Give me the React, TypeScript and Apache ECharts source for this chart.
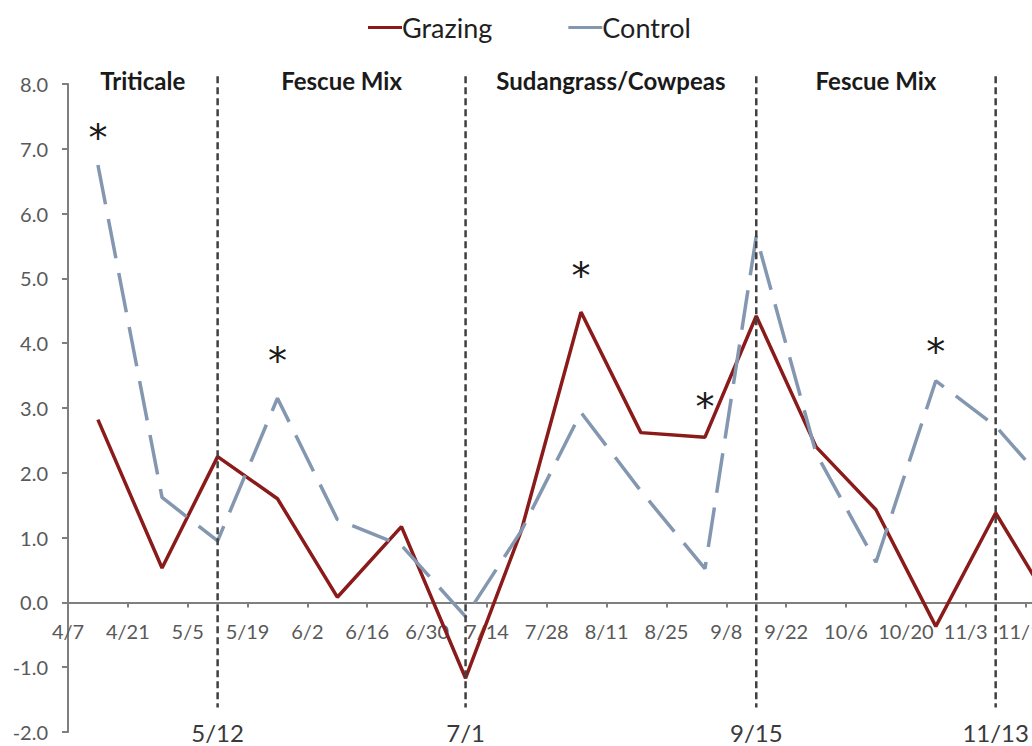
import { useEffect, useRef } from "react";
import * as echarts from "echarts";

// The x axis counts days from April 7 (its origin); ticks fall every 14 days.
const ORIGIN = Date.UTC(2014, 3, 7);
const DAY_MS = 86400000;
const dayOf = (md: string) => {
  const [m, d] = md.split("/").map(Number);
  return Math.round((Date.UTC(2014, m - 1, d) - ORIGIN) / DAY_MS);
};
const dateLabel = (day: number) => {
  const t = new Date(ORIGIN + day * DAY_MS);
  return `${t.getUTCMonth() + 1}/${t.getUTCDate()}`;
};

// Sampling dates and measured values
const sampleDates = [
  "4/14", "4/29", "5/12", "5/26", "6/9", "6/24", "7/9", "7/22", "8/5",
  "8/19", "9/3", "9/15", "9/29", "10/13", "10/27", "11/10", "11/24",
];
const grazing = [
  2.82, 0.53, 2.25, 1.6, 0.08, 1.17, -1.17, 1.1, 4.48,
  2.62, 2.55, 4.42, 2.4, 1.43, -0.37, 1.38, -0.15,
];
const control = [
  6.75, 1.62, 0.95, 3.15, 1.28, 0.88, -0.22, 1.1, 2.93,
  1.72, 0.52, 5.65, 2.3, 0.62, 3.42, 2.72, 1.67,
];

// Axis ranges
const tickStepDays = 14;
const axisEndDay = 225.5;
const yMin = -2;
const yMax = 8;
const yStep = 1;

// Crop rotation: boundary sampling dates and the transition dates they mark
const boundaryDates = ["5/12", "7/9", "9/15", "11/10"];
const boundaryLabels = ["5/12", "7/1", "9/15", "11/13"];
const phaseNames = ["Triticale", "Fescue Mix", "Sudangrass/Cowpeas", "Fescue Mix"];

// Significant differences
const starDates = ["4/14", "5/26", "8/5", "9/3", "10/27"];
const starLevels = [7.3, 3.87, 5.17, 3.16, 4.01];

const FONT = "Lato, 'Open Sans', sans-serif";

// Plot area
const WIDTH = 1032;
const HEIGHT = 746;
const GRID = { left: 68, right: 0, top: 84, bottom: 14 };

export default function App() {
  const ref = useRef<HTMLDivElement>(null);

  useEffect(() => {
    if (!ref.current) return;
    const chart = echarts.init(ref.current, undefined, { renderer: "svg" });

    const boundaryDays = boundaryDates.map(dayOf);
    const phaseStarts = [0, ...boundaryDays.slice(0, -1)];
    const phaseMids = phaseStarts.map((s, i) => (s + boundaryDays[i]) / 2);

    // The date axis sits on the zero line: lift it from the bottom edge.
    const plotHeight = HEIGHT - GRID.top - GRID.bottom;
    const zeroOffset = -((0 - yMin) / (yMax - yMin)) * plotHeight;

    chart.setOption({
      animation: false,
      backgroundColor: "#ffffff",
      grid: { ...GRID, containLabel: false, outerBoundsMode: "none" },
      legend: {
        data: ["Grazing", "Control"],
        left: 363,
        top: 9,
        icon: "rect",
        itemWidth: 34,
        itemHeight: 3,
        itemGap: 76,
        textStyle: { fontFamily: FONT, fontSize: 27, color: "#1f1f1f", padding: [0, 0, 0, -5] },
      },
      xAxis: {
        type: "value",
        position: "bottom",
        offset: zeroOffset,
        min: 0,
        max: axisEndDay,
        interval: tickStepDays,
        splitLine: { show: false },
        axisLine: { onZero: false, lineStyle: { color: "#7f7f7f", width: 2 } },
        axisTick: { show: true, length: 5, lineStyle: { color: "#7f7f7f", width: 2 } },
        axisLabel: {
          showMaxLabel: false,
          hideOverlap: false,
          margin: 19,
          fontFamily: FONT,
          fontSize: 20,
          color: "#595959",
          formatter: (v: number) => (v % tickStepDays === 0 ? dateLabel(v) : ""),
        },
      },
      yAxis: {
        type: "value",
        min: yMin,
        max: yMax,
        interval: yStep,
        splitLine: { show: false },
        axisLine: { show: true, onZero: false, lineStyle: { color: "#7f7f7f", width: 2 } },
        axisTick: { show: true, length: 6, lineStyle: { color: "#7f7f7f", width: 2 } },
        axisLabel: {
          margin: 20,
          fontFamily: FONT,
          fontSize: 20,
          color: "#595959",
          formatter: (v: number) => v.toFixed(1),
        },
      },
      series: [
        {
          name: "Grazing",
          type: "line",
          color: "#8b1a1a",
          symbol: "none",
          lineStyle: { color: "#8b1a1a", width: 3.5 },
          data: sampleDates.map((d, i) => [dayOf(d), grazing[i]]),
          z: 3,
        },
        {
          name: "Control",
          type: "line",
          color: "#8497b0",
          symbol: "none",
          lineStyle: { color: "#8497b0", width: 3.5, type: [40, 15] },
          data: sampleDates.map((d, i) => [dayOf(d), control[i]]),
          z: 4,
        },
        {
          name: "boundaries",
          type: "custom",
          encode: { x: 0, y: 1 },
          data: boundaryDays.map((d) => [d, 0]),
          z: 5,
          renderItem: (params: any, api: any) => {
            const x = api.value(0);
            const top = api.coord([x, 8.12]);
            const bottom = api.coord([x, -1.62]);
            const lab = api.coord([x, -2.0]);
            return {
              type: "group",
              children: [
                {
                  type: "line",
                  shape: { x1: top[0], y1: top[1], x2: bottom[0], y2: bottom[1] },
                  style: { stroke: "#404040", lineWidth: 2.5, lineDash: [7, 4] },
                },
                {
                  type: "text",
                  x: lab[0],
                  y: lab[1],
                  style: {
                    text: boundaryLabels[params.dataIndex],
                    fill: "#3a3a3a",
                    fontFamily: FONT,
                    fontSize: 24,
                    align: "center",
                    verticalAlign: "middle",
                  },
                },
              ],
            };
          },
        },
        {
          name: "phases",
          type: "custom",
          encode: { x: 0, y: 1 },
          data: phaseMids.map((d) => [d, 8]),
          z: 5,
          renderItem: (params: any, api: any) => {
            const p = api.coord([api.value(0), 8.05]);
            return {
              type: "text",
              x: p[0],
              y: p[1],
              style: {
                text: phaseNames[params.dataIndex],
                fill: "#1a1a1a",
                fontFamily: FONT,
                fontWeight: "bold",
                fontSize: 24,
                align: "center",
                verticalAlign: "middle",
              },
            };
          },
        },
        {
          name: "stars",
          type: "custom",
          encode: { x: 0, y: 1 },
          data: starDates.map((d, i) => [dayOf(d), starLevels[i]]),
          z: 5,
          renderItem: (params: any, api: any) => {
            const p = api.coord([api.value(0), api.value(1)]);
            return {
              type: "text",
              x: p[0],
              y: p[1] + 9,
              style: {
                text: "*",
                fill: "#1a1a1a",
                fontFamily: "'DejaVu Sans', sans-serif",
                fontSize: 38,
                align: "center",
                verticalAlign: "middle",
              },
            };
          },
        },
      ],
    });

    return () => chart.dispose();
  }, []);

  return (
    <div
      ref={ref}
      style={{ position: "fixed", left: 0, top: 0, width: WIDTH, height: HEIGHT, background: "#ffffff" }}
    />
  );
}
